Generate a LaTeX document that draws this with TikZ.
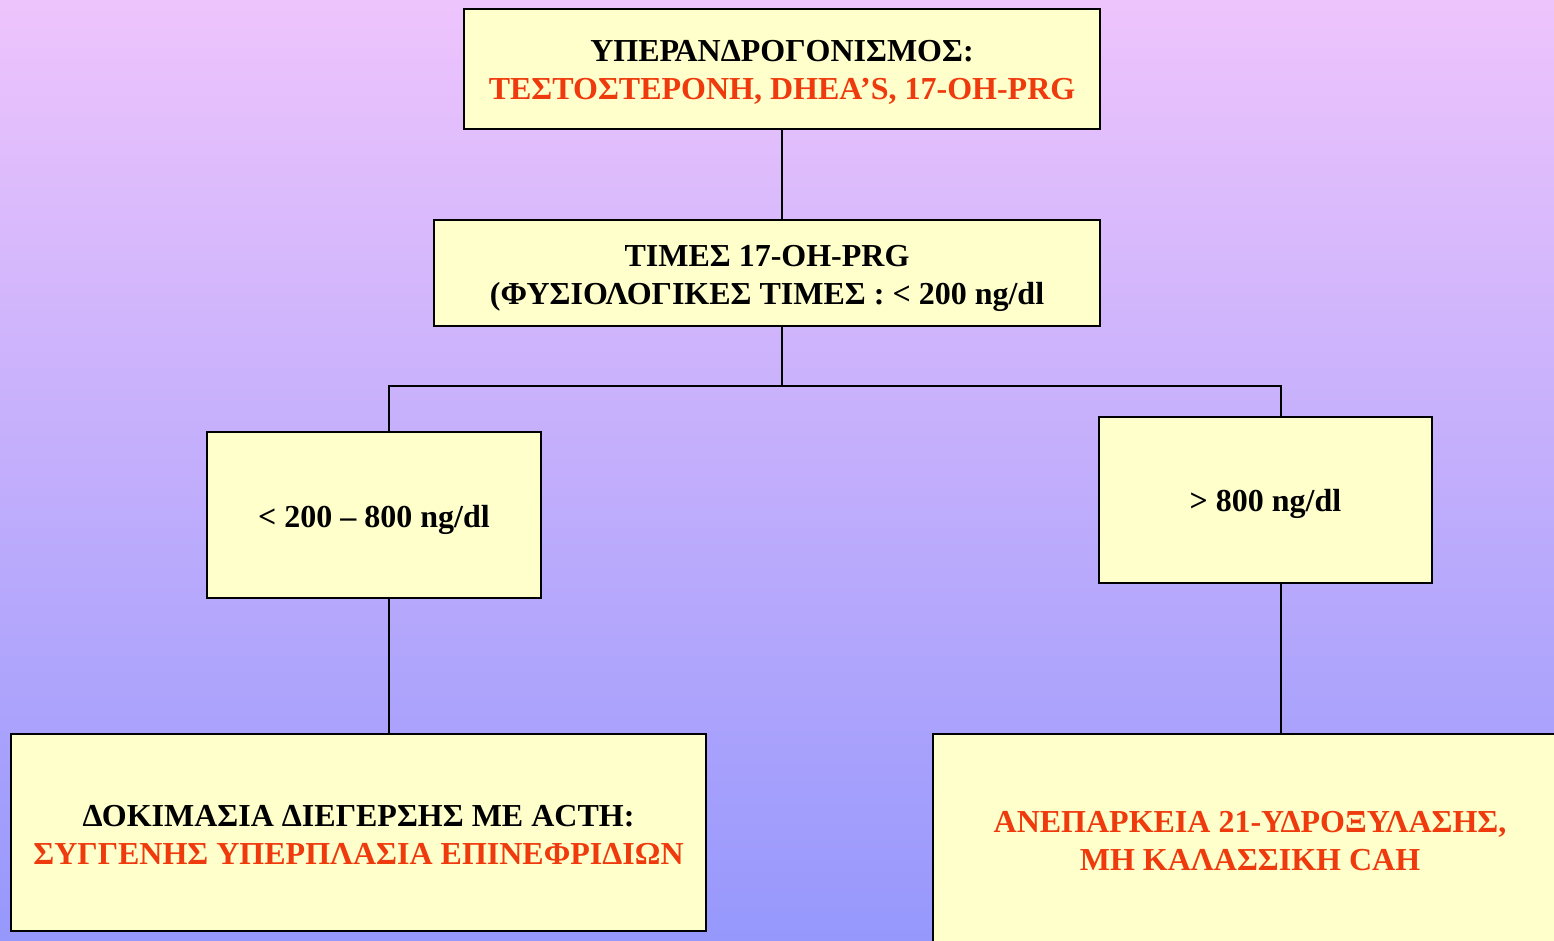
\documentclass[tikz,border=0pt]{standalone}
\usepackage{fontspec}
\setmainfont{Liberation Serif}
\definecolor{bgtop}{RGB}{238,196,252}
\definecolor{bgbottom}{RGB}{150,152,252}
\definecolor{boxfill}{RGB}{255,255,204}
\definecolor{alert}{RGB}{238,58,12}
% lower one line of a box's text without changing the box size
\newcommand\dropline[2][3pt]{\raisebox{-#1}[\height][\depth]{#2}}
\begin{document}
\begin{tikzpicture}[x=1pt,y=-1pt,
  box/.style={draw=black,line width=2pt,fill=boxfill,rectangle,inner sep=0pt,
    align=center,font=\fontsize{32}{38}\selectfont\bfseries},
  link/.style={draw=black,line width=2pt}]
  % backdrop
  \useasboundingbox (0,0) rectangle (1554,940);
  \shade[top color=bgtop,bottom color=bgbottom] (0,0) rectangle (1554,940);

  % boxes
  \node[box,minimum width=636pt,minimum height=120pt] (top) at (782,69)
    {\dropline{ΥΠΕΡΑΝΔΡΟΓΟΝΙΣΜΟΣ:}\\
     \dropline{\textcolor{alert}{ΤΕΣΤΟΣΤΕΡΟΝΗ, DHEA’S, 17-OH-PRG}}};
  \node[box,minimum width=666pt,minimum height=106pt] (mid) at (767,273)
    {\dropline[5pt]{ΤΙΜΕΣ 17-OH-PRG}\\
     \dropline[5pt]{(ΦΥΣΙΟΛΟΓΙΚΕΣ ΤΙΜΕΣ : < 200 ng/dl}};
  \node[box,minimum width=334pt,minimum height=166pt] (low) at (374,515)
    {\dropline[5pt]{< 200 – 800 ng/dl}};
  \node[box,minimum width=333pt,minimum height=166pt] (high) at (1265.5,500)
    {\dropline[4pt]{> 800 ng/dl}};
  \node[box,minimum width=695pt,minimum height=197pt] (acth) at (358.5,832.5)
    {\dropline[2pt]{ΔΟΚΙΜΑΣΙΑ ΔΙΕΓΕΡΣΗΣ ΜΕ ACTH:}\\
     \dropline[2pt]{\textcolor{alert}{ΣΥΓΓΕΝΗΣ ΥΠΕΡΠΛΑΣΙΑ ΕΠΙΝΕΦΡΙΔΙΩΝ}}};
  \node[box,minimum width=634pt,minimum height=212pt] (cah) at (1250,840)
    {\dropline[1pt]{\textcolor{alert}{ΑΝΕΠΑΡΚΕΙΑ 21-ΥΔΡΟΞΥΛΑΣΗΣ,}}\\
     \dropline[1pt]{\textcolor{alert}{ΜΗ ΚΑΛΑΣΣΙΚΗ CAH}}};

  % connectors
  \coordinate (split) at (782,386);
  \draw[link] (top.south -| split) -- (mid.north -| split);
  \draw[link] (mid.south -| split) -- (split);
  \draw[link] (low.north -| 389,0) |- (split) -| (high.north -| 1281,0);
  \draw[link] (low.south -| 389,0) -- (acth.north -| 389,0);
  \draw[link] (high.south -| 1281,0) -- (cah.north -| 1281,0);
\end{tikzpicture}
\end{document}
